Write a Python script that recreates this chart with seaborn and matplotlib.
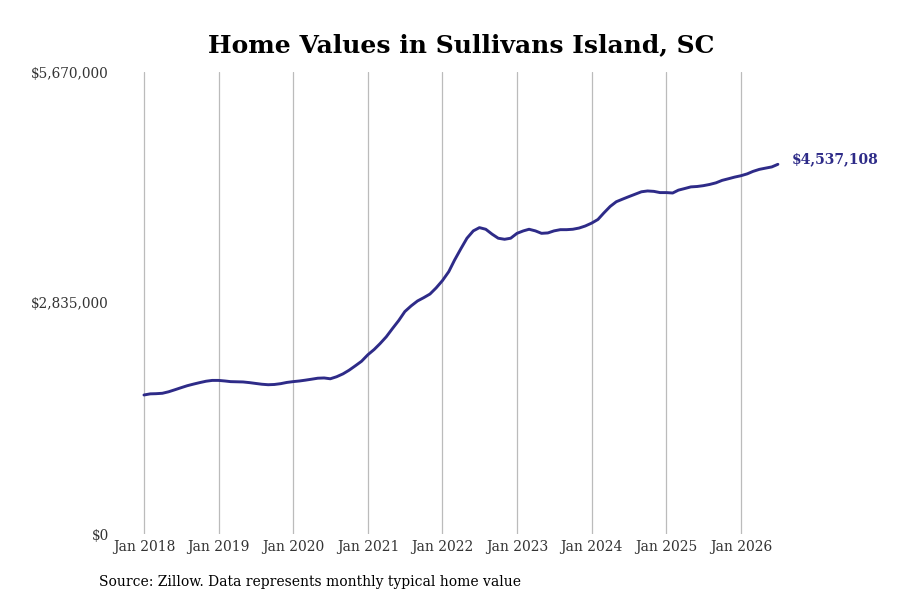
import numpy as np
import pandas as pd
import matplotlib.pyplot as plt
import matplotlib.dates as mdates
import seaborn as sns

sns.set_style("white")
plt.rcParams["font.family"] = ["DejaVu Serif"]

# monthly typical home value, Jan 2018 -> Jul 2026
dates = pd.date_range("2018-01-01", periods=103, freq="MS")
values_m = [
    # 2018
    1.706, 1.720, 1.722, 1.727, 1.745, 1.770, 1.795, 1.820, 1.840, 1.858, 1.875, 1.885,
    # 2019
    1.885, 1.878, 1.870, 1.868, 1.866, 1.858, 1.848, 1.838, 1.832, 1.835, 1.845, 1.860,
    # 2020
    1.870, 1.878, 1.888, 1.900, 1.912, 1.915, 1.905, 1.930, 1.965, 2.010, 2.065, 2.120,
    # 2021
    2.200, 2.265, 2.335, 2.420, 2.520, 2.620, 2.730, 2.800, 2.860, 2.900, 2.945, 3.020,
    # 2022
    3.110, 3.220, 3.360, 3.500, 3.630, 3.720, 3.760, 3.740, 3.680, 3.630, 3.617, 3.630,
    # 2023
    3.690, 3.720, 3.740, 3.720, 3.690, 3.695, 3.720, 3.735, 3.735, 3.740, 3.755, 3.780,
    # 2024
    3.815, 3.860, 3.940, 4.020, 4.078, 4.110, 4.140, 4.170, 4.200, 4.210, 4.205, 4.190,
    # 2025
    4.190, 4.185, 4.220, 4.240, 4.260, 4.265, 4.275, 4.290, 4.310, 4.340, 4.360, 4.380,
    # 2026
    4.397, 4.420, 4.450, 4.475, 4.490, 4.505, 4.537108,
]
df = pd.DataFrame({"date": dates, "value": np.array(values_m) * 1e6})

y_ticks = [0, 2835000, 5670000]
y_labels = ["$0", "$2,835,000", "$5,670,000"]
x_years = list(range(2018, 2027))
last_label = "$4,537,108"
title = "Home Values in Sullivans Island, SC"
source = "Source: Zillow. Data represents monthly typical home value"

line_color = "#2e2b88"

fig = plt.figure(figsize=(9, 6), dpi=100)
ax = fig.add_axes([0.125, 0.11, 0.755, 0.77])

sns.lineplot(data=df, x="date", y="value", ax=ax, color=line_color, lw=2.1)

ax.set_ylim(0, 5670000)
ax.set_xlim(pd.Timestamp("2017-07-31"), pd.Timestamp("2026-09-08"))
ax.set_yticks(y_ticks)
ax.set_yticklabels(y_labels)
ax.set_xticks([pd.Timestamp(f"{y}-01-01") for y in x_years])
ax.xaxis.set_major_formatter(mdates.DateFormatter("Jan %Y"))
ax.tick_params(axis="both", length=0, labelsize=10, colors="#333333")
ax.tick_params(axis="y", labelsize=9.8, pad=2.5)
ax.tick_params(axis="x", pad=4)
ax.grid(axis="x", color="#bbbbbb", lw=0.9)
ax.grid(axis="y", visible=False)
for s in ax.spines.values():
    s.set_visible(False)
ax.set_xlabel("")
ax.set_ylabel("")

last = df.iloc[-1]
ax.annotate(last_label, xy=(last["date"], last["value"]), xytext=(10, 4),
            textcoords="offset points", color=line_color, fontsize=10,
            fontweight="bold", va="center", ha="left", annotation_clip=False)

fig.text(0.512, 0.925, title, ha="center", va="center", fontsize=18,
         fontweight="bold", color="black")
fig.text(0.11, 0.03, source, ha="left", va="center", fontsize=10,
         color="black")

plt.savefig("out.png", dpi=100)
plt.close()
